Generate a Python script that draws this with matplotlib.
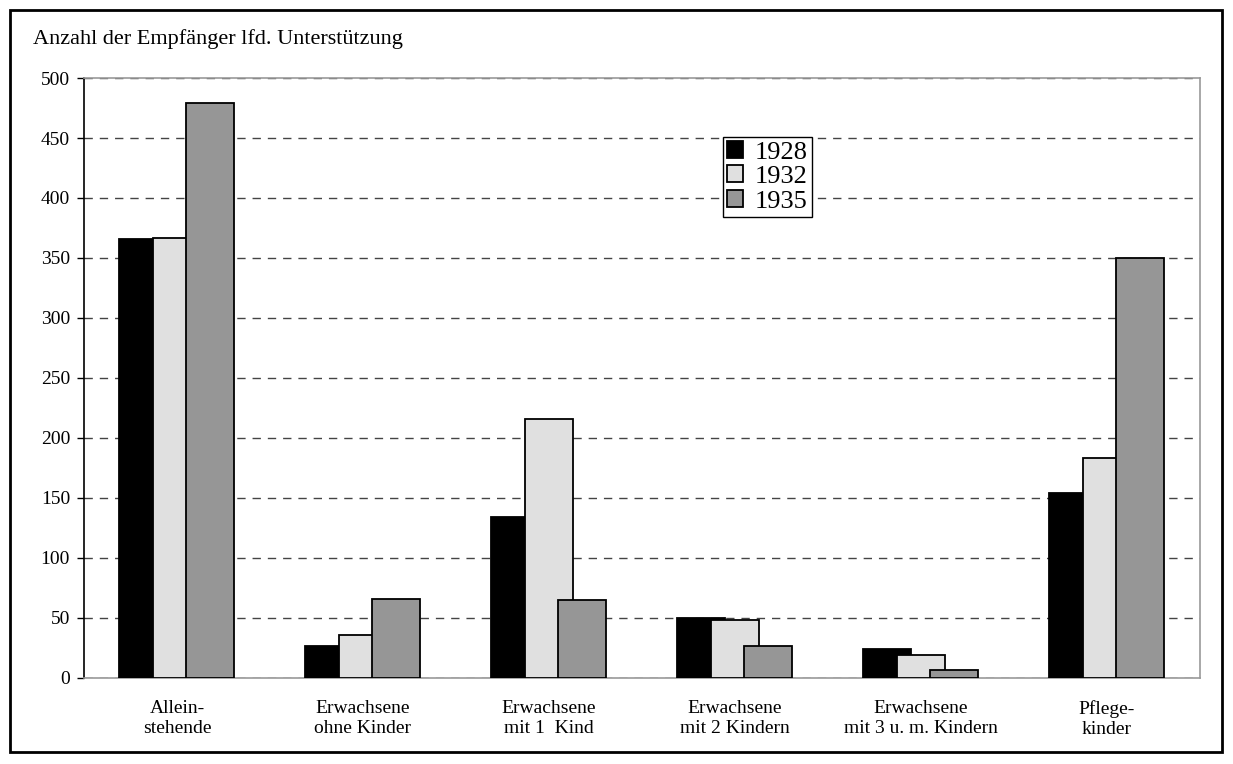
import numpy as np
import matplotlib.pyplot as plt
from matplotlib.patches import Rectangle

plt.rcParams["font.family"] = ["Liberation Serif", "DejaVu Serif"]

categories = ["Allein-\nstehende", "Erwachsene\nohne Kinder", "Erwachsene\nmit 1  Kind",
              "Erwachsene\nmit 2 Kindern", "Erwachsene\nmit 3 u. m. Kindern", "Pflege-\nkinder"]
years = ["1928", "1932", "1935"]
v1928 = [366, 27, 134, 50, 24, 154]
v1932 = [367, 36, 216, 48, 19, 183]
v1935 = [479, 66, 65, 27, 7, 350]
colors = ["#000000", "#e0e0e0", "#969696"]

fig = plt.figure(figsize=(12.33, 7.64), dpi=100)
ax = fig.add_axes([0.0681, 0.1126, 0.9051, 0.7853])

x = np.arange(len(categories))
step = 0.18
width = 0.258
for i, (vals, col, lab) in enumerate(zip([v1928, v1932, v1935], colors, years)):
    ax.bar(x + (i - 1) * step, vals, width, color=col, edgecolor="black",
           linewidth=1.3, label=lab, zorder=3 + i)

ax.set_xlim(-0.5, len(categories) - 0.5)
ax.set_ylim(0, 500)
ax.set_yticks(range(0, 501, 50))
ax.set_xticks(x)
ax.set_xticklabels(categories, fontsize=14, linespacing=1.25)
ax.tick_params(axis="x", length=0, pad=16)
ax.tick_params(axis="y", direction="out", length=5, width=1, labelsize=14, pad=5, color="black")

ax.yaxis.grid(True, linestyle=(0, (6, 5)), color="#444444", linewidth=1.0)
ax.set_axisbelow(True)
for side in ["top", "right", "bottom"]:
    ax.spines[side].set_color("#999999")
    ax.spines[side].set_linewidth(1.2)
ax.spines["left"].set_color("black")
ax.spines["left"].set_linewidth(1.2)

leg = ax.legend(loc="upper left", bbox_to_anchor=(723 / 1233, 1 - 137 / 764),
                bbox_transform=fig.transFigure, fontsize=19, frameon=True,
                fancybox=False, edgecolor="black", framealpha=1,
                handlelength=0.6, handleheight=0.6, handletextpad=0.45,
                labelspacing=0.07, borderpad=0.15, borderaxespad=0)
leg.get_frame().set_linewidth(1.0)
leg.set_zorder(10)

fig.text(33 / 1233, 1 - 44 / 764, "Anzahl der Empfänger lfd. Unterstützung",
         fontsize=16, va="baseline", ha="left")

# outer frame around the whole chart
fig.patches.append(Rectangle((10 / 1233, 12 / 764), 1212 / 1233, 742 / 764,
                             transform=fig.transFigure, fill=False,
                             edgecolor="black", linewidth=2))

fig.savefig("out.png", dpi=100)
